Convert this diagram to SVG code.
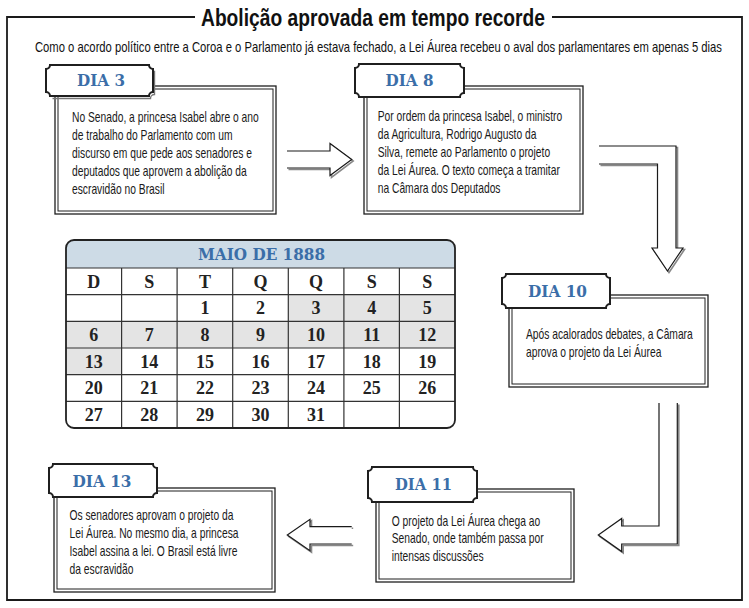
<svg xmlns="http://www.w3.org/2000/svg" width="749" height="608" viewBox="0 0 749 608">
<style>
.frame{fill:none;stroke:#1a1a1a;stroke-width:1.8}
.title{font-family:"Liberation Sans",Arial,sans-serif;font-weight:bold;font-size:24px;fill:#111}
.sub{font-family:"Liberation Sans",Arial,sans-serif;font-size:14px;fill:#111}
.tab{fill:#fff;stroke:#1f1f1f;stroke-width:2}
.tabsh{fill:none;stroke:#777;stroke-width:1.4}
.boxo{fill:#fff;stroke:#1f1f1f;stroke-width:1.3}
.boxi{fill:none;stroke:#1f1f1f;stroke-width:1}
.lab{font-family:"DejaVu Serif",Georgia,serif;font-weight:bold;font-size:17px;fill:#3b6ea8;text-anchor:middle}
.body{font-family:"Liberation Sans",Arial,sans-serif;font-size:14px;fill:#1a1a1a}
.arr{fill:#fff;stroke:#1a1a1a;stroke-width:1.2;stroke-linejoin:miter}
.arrsh{fill:none;stroke:#888;stroke-width:1.6}
.cal{fill:none;stroke:#222;stroke-width:1.8}
.grid{stroke:#333;stroke-width:1.2}
.shade{fill:#e4e4e4}
.ct{font-family:"Liberation Serif","Times New Roman",serif;font-weight:bold;font-size:18px;fill:#222;text-anchor:middle}
.ch{font-family:"DejaVu Serif",Georgia,serif;font-weight:bold;font-size:17px;fill:#3b6ea8;text-anchor:middle}
</style>
<defs>
<clipPath id="calclip"><rect x="66" y="240" width="389" height="188" rx="8"/></clipPath>
</defs>

<g id="frame">
<path class="frame" d="M195,17 H7 V600 H742 V17 H552"/>
<g transform="translate(201,0) scale(0.82,1)">
<text class="title" x="0" y="26" textLength="419.5" lengthAdjust="spacingAndGlyphs">Abolição aprovada em tempo recorde</text>
</g>
<g transform="translate(35,0) scale(0.8,1)">
<text class="sub" x="0" y="52" textLength="858.7" lengthAdjust="spacingAndGlyphs">Como o acordo político entre a Coroa e o Parlamento já estava fechado, a Lei Áurea recebeu o aval dos parlamentares em apenas 5 dias</text>
</g>
</g>

<g id="connectors">
<g id="arrow-3-8">
<path class="arrsh" d="M288.5,152.5 H331.5 V145 L353.2,161 L331.5,177.5 V169.5 H288.5"/>
<path class="arr" d="M287,151 H330 V143.5 L351.7,159.5 L330,175.5 V168 H287"/>
</g>
<g id="arrow-8-10">
<path class="arrsh" d="M600.5,147.5 H677.5 V249.5 H684.5 L669,272.5 L653.5,249.5 H659 V165.5 H600.5"/>
<path class="arr" d="M599,146 H676 V248 H683 L667.5,271 L652,248 H657.5 V164 H599"/>
</g>
<g id="arrow-10-11">
<path class="arrsh" d="M660.5,404.5 V527.5 H623.2 V520 L599.8,536.5 L623.2,553 V545.5 H678.8 V404.5"/>
<path class="arr" d="M659,403 V526 H621.7 V518.5 L598.3,535 L621.7,551.5 V544 H677.3 V403"/>
</g>
<g id="arrow-11-13">
<path class="arrsh" d="M353.2,528.2 H311.5 V520.8 L288.8,536.5 L311.5,552.2 V545.5 H353.2"/>
<path class="arr" d="M351.7,526.7 H310 V519.3 L287.3,535 L310,550.7 V544 H351.7"/>
</g>
</g>

<g id="dia3">
<rect class="boxo" x="55" y="86" width="221" height="128"/>
<rect class="boxi" x="58" y="89" width="215" height="122"/>
<path class="tabsh" d="M48.5,67.5 H150.5 A4 4 0 0 0 154.5,71.5 V94.5 A4 4 0 0 0 150.5,98.5 H52.5"/>
<path class="tab" d="M50,65 H149 A4 4 0 0 0 153,69 V92 A4 4 0 0 0 149,96 H50 A4 4 0 0 0 46,92 V69 A4 4 0 0 0 50,65 Z"/>
<text class="lab" x="101" y="86" textLength="48" lengthAdjust="spacingAndGlyphs">DIA 3</text>
<g transform="translate(72,0) scale(0.735,1)">
<text class="body"><tspan x="0" y="122.5">No Senado, a princesa Isabel abre o ano</tspan><tspan x="0" y="140.5">de trabalho do Parlamento com um</tspan><tspan x="0" y="158.5">discurso em que pede aos senadores e</tspan><tspan x="0" y="176.5">deputados que aprovem a abolição da</tspan><tspan x="0" y="194.5">escravidão no Brasil</tspan></text>
</g>
</g>

<g id="dia8">
<rect class="boxo" x="364" y="86" width="219" height="128"/>
<rect class="boxi" x="367" y="89" width="213" height="122"/>
<path class="tab" d="M359,64 H460 A4 4 0 0 0 464,68 V93 A4 4 0 0 0 460,97 H359 A4 4 0 0 0 355,93 V68 A4 4 0 0 0 359,64 Z"/>
<text class="lab" x="409.5" y="85.5" textLength="48" lengthAdjust="spacingAndGlyphs">DIA 8</text>
<g transform="translate(377.7,0) scale(0.735,1)">
<text class="body"><tspan x="0" y="121.5">Por ordem da princesa Isabel, o ministro</tspan><tspan x="0" y="139.5">da Agricultura, Rodrigo Augusto da</tspan><tspan x="0" y="157.5">Silva, remete ao Parlamento o projeto</tspan><tspan x="0" y="175.5">da Lei Áurea. O texto começa a tramitar</tspan><tspan x="0" y="193.5">na Câmara dos Deputados</tspan></text>
</g>
</g>

<g id="dia10">
<rect class="boxo" x="509" y="295" width="199" height="92"/>
<rect class="boxi" x="512" y="298" width="193" height="86"/>
<path class="tab" d="M506,274 H606 A4 4 0 0 0 610,278 V304 A4 4 0 0 0 606,308 H506 A4 4 0 0 0 502,304 V278 A4 4 0 0 0 506,274 Z"/>
<text class="lab" x="557.5" y="296.5" textLength="59" lengthAdjust="spacingAndGlyphs">DIA 10</text>
<g transform="translate(526,0) scale(0.735,1)">
<text class="body"><tspan x="0" y="339.5">Após acalorados debates, a Câmara</tspan><tspan x="0" y="357.5">aprova o projeto da Lei Áurea</tspan></text>
</g>
</g>

<g id="dia11">
<rect class="boxo" x="376" y="489" width="198" height="93"/>
<rect class="boxi" x="379" y="492" width="192" height="87"/>
<path class="tab" d="M372,467 H473 A4 4 0 0 0 477,471 V498 A4 4 0 0 0 473,502 H372 A4 4 0 0 0 368,498 V471 A4 4 0 0 0 372,467 Z"/>
<text class="lab" x="423.5" y="490" textLength="57" lengthAdjust="spacingAndGlyphs">DIA 11</text>
<g transform="translate(391.7,0) scale(0.735,1)">
<text class="body"><tspan x="0" y="526">O projeto da Lei Áurea chega ao</tspan><tspan x="0" y="543.5">Senado, onde também passa por</tspan><tspan x="0" y="561">intensas discussões</tspan></text>
</g>
</g>

<g id="dia13">
<rect class="boxo" x="54" y="488" width="221" height="104"/>
<rect class="boxi" x="57" y="491" width="215" height="98"/>
<path class="tab" d="M53,464 H153 A4 4 0 0 0 157,468 V493 A4 4 0 0 0 153,497 H53 A4 4 0 0 0 49,493 V468 A4 4 0 0 0 53,464 Z"/>
<text class="lab" x="102" y="487" textLength="59" lengthAdjust="spacingAndGlyphs">DIA 13</text>
<g transform="translate(69.5,0) scale(0.735,1)">
<text class="body"><tspan x="0" y="520.5">Os senadores aprovam o projeto da</tspan><tspan x="0" y="538.5">Lei Áurea. No mesmo dia, a princesa</tspan><tspan x="0" y="556.5">Isabel assina a lei. O Brasil está livre</tspan><tspan x="0" y="574.5">da escravidão</tspan></text>
</g>
</g>

<g id="calendar">
<g clip-path="url(#calclip)">
<rect x="66" y="240" width="389" height="188" fill="#fff"/>
<rect x="66" y="240" width="389" height="28" fill="#cddbe6"/>
<rect class="shade" x="288.3" y="294.7" width="166.7" height="26.6"/>
<rect class="shade" x="66" y="321.3" width="389" height="26.7"/>
<rect class="shade" x="66" y="348" width="55.6" height="26.7"/>
</g>
<g class="grid">
<line x1="66" y1="268" x2="455" y2="268"/>
<line x1="66" y1="294.7" x2="455" y2="294.7"/>
<line x1="66" y1="321.3" x2="455" y2="321.3"/>
<line x1="66" y1="348" x2="455" y2="348"/>
<line x1="66" y1="374.7" x2="455" y2="374.7"/>
<line x1="66" y1="401.3" x2="455" y2="401.3"/>
<line x1="121.6" y1="268" x2="121.6" y2="428"/>
<line x1="177.1" y1="268" x2="177.1" y2="428"/>
<line x1="232.7" y1="268" x2="232.7" y2="428"/>
<line x1="288.3" y1="268" x2="288.3" y2="428"/>
<line x1="343.9" y1="268" x2="343.9" y2="428"/>
<line x1="399.4" y1="268" x2="399.4" y2="428"/>
</g>
<rect class="cal" x="66" y="240" width="389" height="188" rx="8"/>
<text class="ch" x="261.5" y="260" textLength="127" lengthAdjust="spacingAndGlyphs">MAIO DE 1888</text>
<g class="ct">
<text x="93.8" y="287.5">D</text><text x="149.3" y="287.5">S</text><text x="204.9" y="287.5">T</text><text x="260.5" y="287.5">Q</text><text x="316.1" y="287.5">Q</text><text x="371.7" y="287.5">S</text><text x="427.2" y="287.5">S</text>
<text x="204.9" y="314.2">1</text><text x="260.5" y="314.2">2</text><text x="316.1" y="314.2">3</text><text x="371.7" y="314.2">4</text><text x="427.2" y="314.2">5</text>
<text x="93.8" y="340.9">6</text><text x="149.3" y="340.9">7</text><text x="204.9" y="340.9">8</text><text x="260.5" y="340.9">9</text><text x="316.1" y="340.9">10</text><text x="371.7" y="340.9">11</text><text x="427.2" y="340.9">12</text>
<text x="93.8" y="367.5">13</text><text x="149.3" y="367.5">14</text><text x="204.9" y="367.5">15</text><text x="260.5" y="367.5">16</text><text x="316.1" y="367.5">17</text><text x="371.7" y="367.5">18</text><text x="427.2" y="367.5">19</text>
<text x="93.8" y="394.2">20</text><text x="149.3" y="394.2">21</text><text x="204.9" y="394.2">22</text><text x="260.5" y="394.2">23</text><text x="316.1" y="394.2">24</text><text x="371.7" y="394.2">25</text><text x="427.2" y="394.2">26</text>
<text x="93.8" y="420.9">27</text><text x="149.3" y="420.9">28</text><text x="204.9" y="420.9">29</text><text x="260.5" y="420.9">30</text><text x="316.1" y="420.9">31</text>
</g>
</g>
</svg>
